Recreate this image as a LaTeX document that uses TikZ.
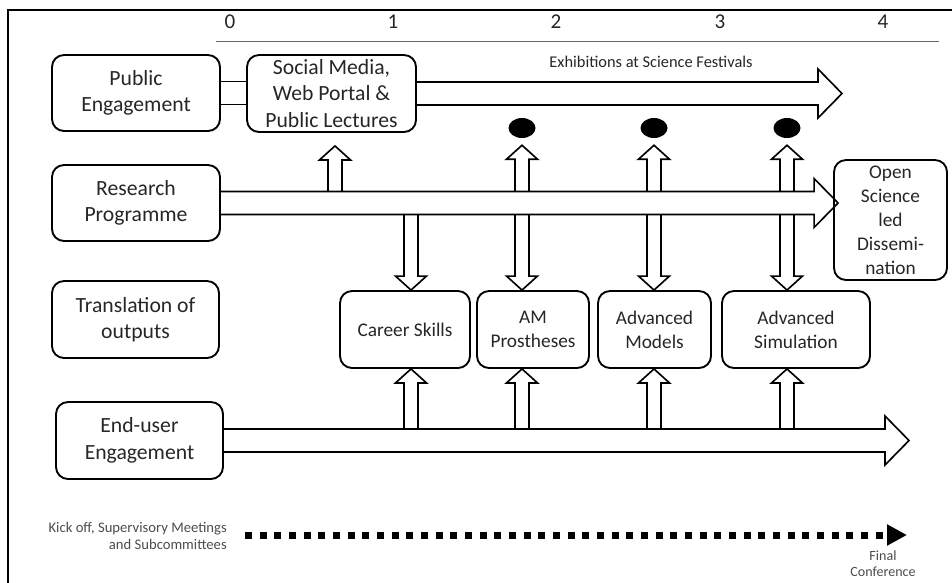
\documentclass[tikz,border=0pt]{standalone}
\usepackage{fontspec}
\setmainfont{Carlito}
\usetikzlibrary{calc,shapes.geometric,arrows.meta}

% sizes of the hollow arrows
\def\fsw{3.45mm}
\def\fhw{7.35mm}
\def\fhl{7.2mm}
\def\vsw{2.1mm}
\def\vhw{4.65mm}
\def\vhl{4.2mm}

\newcommand{\hfat}[2]{\draw[fat] let \p1=(#1), \p2=(#2) in
  (\x1,\y1+\fsw) -- (\x2-\fhl,\y1+\fsw) -- (\x2-\fhl,\y1+\fhw) -- (\x2,\y1)
  -- (\x2-\fhl,\y1-\fhw) -- (\x2-\fhl,\y1-\fsw) -- (\x1,\y1-\fsw);}
\newcommand{\upfat}[2]{\draw[fat] let \p1=(#1), \p2=(#2) in
  (\x1-\vsw,\y1) -- (\x1-\vsw,\y2-\vhl) -- (\x1-\vhw,\y2-\vhl) -- (\x1,\y2)
  -- (\x1+\vhw,\y2-\vhl) -- (\x1+\vsw,\y2-\vhl) -- (\x1+\vsw,\y1);}
\newcommand{\downfat}[2]{\draw[fat] let \p1=(#1), \p2=(#2) in
  (\x1-\vsw,\y1) -- (\x1-\vsw,\y2+\vhl) -- (\x1-\vhw,\y2+\vhl) -- (\x1,\y2)
  -- (\x1+\vhw,\y2+\vhl) -- (\x1+\vsw,\y2+\vhl) -- (\x1+\vsw,\y1);}

\begin{document}
\begin{tikzpicture}[x=0.3mm, y=-0.3mm, font=\fontsize{18.5}{22.5}\selectfont, text=black!85,
	box/.style={draw=black, line width=1.6pt, rounded corners=3.6mm, align=center, inner sep=0pt},
	sz/.style 2 args={minimum width=#1*0.3mm, minimum height=#2*0.3mm},
	small/.style={font=\fontsize{16.5}{20.5}\selectfont},
	fat/.style={draw=black, line width=1.4pt, line join=miter},
	blob/.style={ellipse, fill=black, minimum width=8.1mm, minimum height=6mm, inner sep=0pt},
	smalltext/.style={font=\fontsize{12.5}{14.5}\selectfont, text=black!70, inner sep=0pt},
	dotline/.style={draw=black, line width=2.1mm, dash pattern=on 2.1mm off 2.3mm,
		-{Triangle[length=6mm,width=6mm]}}]
\useasboundingbox (0,0) rectangle (952,582);
\draw[line width=1.4pt] (8,600) -- (8,10) -- (960,10);

% time line
\foreach \n/\x in {0/230,1/393,2/556,3/720,4/883}
	\node[font=\fontsize{18}{20}\selectfont] (t\n) at (\x,22) {\n};
\draw[black!60, line width=0.8pt] (216,41) -- (939,41);

% rows
\node[box, sz={168}{76}] (pe) at (136,93) {Public\\Engagement};
\node[box, sz={169}{77}] (sm) at (331.5,93.5) {Social Media,\\Web Portal \&\\Public Lectures};
\node[box, sz={168}{76}] (rp) at (136,203) {Research\\Programme};
\node[box, small, sz={113}{120}] (os) at (890.5,220) {Open\\Science\\led\\Dissemi-\\nation};
\node[box, sz={167}{77}] (to) at (135.5,319.5) {Translation of\\outputs};
\node[box, small, sz={130}{77}] (cs) at (405,329.5) {Career Skills};
\node[box, small, sz={112}{77}] (am) at (533,329.5) {AM\\Prostheses};
\node[box, small, sz={113}{77}] (adm) at (654.5,329.5) {Advanced\\Models};
\node[box, small, sz={148}{77}] (ads) at (796,329.5) {Advanced\\Simulation};
\node[box, sz={167}{77}] (eu) at (139.5,440.5) {End-user\\Engagement};

\node[font=\fontsize{14}{16}\selectfont] (ex) at (651,62) {Exhibitions at Science Festivals};

% columns of the small arrows
\coordinate (k0) at (335,0);
\coordinate (k1) at (411,0);
\coordinate (k2) at (522,0);
\coordinate (k3) at (654,0);
\coordinate (k4) at (787,0);
\foreach \i/\x in {1/522,2/654,3/787} {
	\node[blob] (d\i) at (\x,128) {};
	\coordinate (tip\i) at ($(d\i.south)+(0,7)$);
}
\coordinate (smTip) at ($(sm.south -| k0)+(0,13)$);
\coordinate (exTip) at (842,0);
\coordinate (osTip) at ($(os.west)+(5,0)$);
\coordinate (euTip) at (909,0);
\coordinate (rpTop) at ($(rp.east)+(0,-11.5)$);
\coordinate (rpBot) at ($(rp.east)+(0,11.5)$);
\coordinate (euTop) at ($(eu.east)+(0,-11)$);

% big arrows
\draw[fat] let \p1=(pe.east), \p2=(sm.west) in
	(\x1,\y1+\fsw) -- (\x2,\y1+\fsw) (\x1,\y1-\fsw) -- (\x2,\y1-\fsw);
\hfat{sm.east}{exTip}
\hfat{rp.east}{osTip}
\hfat{eu.east}{euTip}

% small arrows
\upfat{rpTop -| k0}{smTip}
\upfat{rpTop -| d1}{tip1}
\upfat{rpTop -| d2}{tip2}
\upfat{rpTop -| d3}{tip3}
\foreach \k/\b in {k1/cs, k2/am, k3/adm, k4/ads} {
	\downfat{rpBot -| \k}{\b.north -| \k}
	\upfat{euTop -| \k}{\b.south -| \k}
}

% meetings
\node[smalltext, align=right, anchor=east] (ko) at (227,536) {Kick off, Supervisory Meetings\\and Subcommittees};
\node[smalltext, font=\fontsize{12}{13.5}\selectfont, align=center] (fc) at (883,564) {Final\\Conference};
\coordinate (dStart) at (245,535);
\coordinate (dEnd) at (907,535);
\draw[dotline] (dStart) -- (dEnd);
\end{tikzpicture}
\end{document}
